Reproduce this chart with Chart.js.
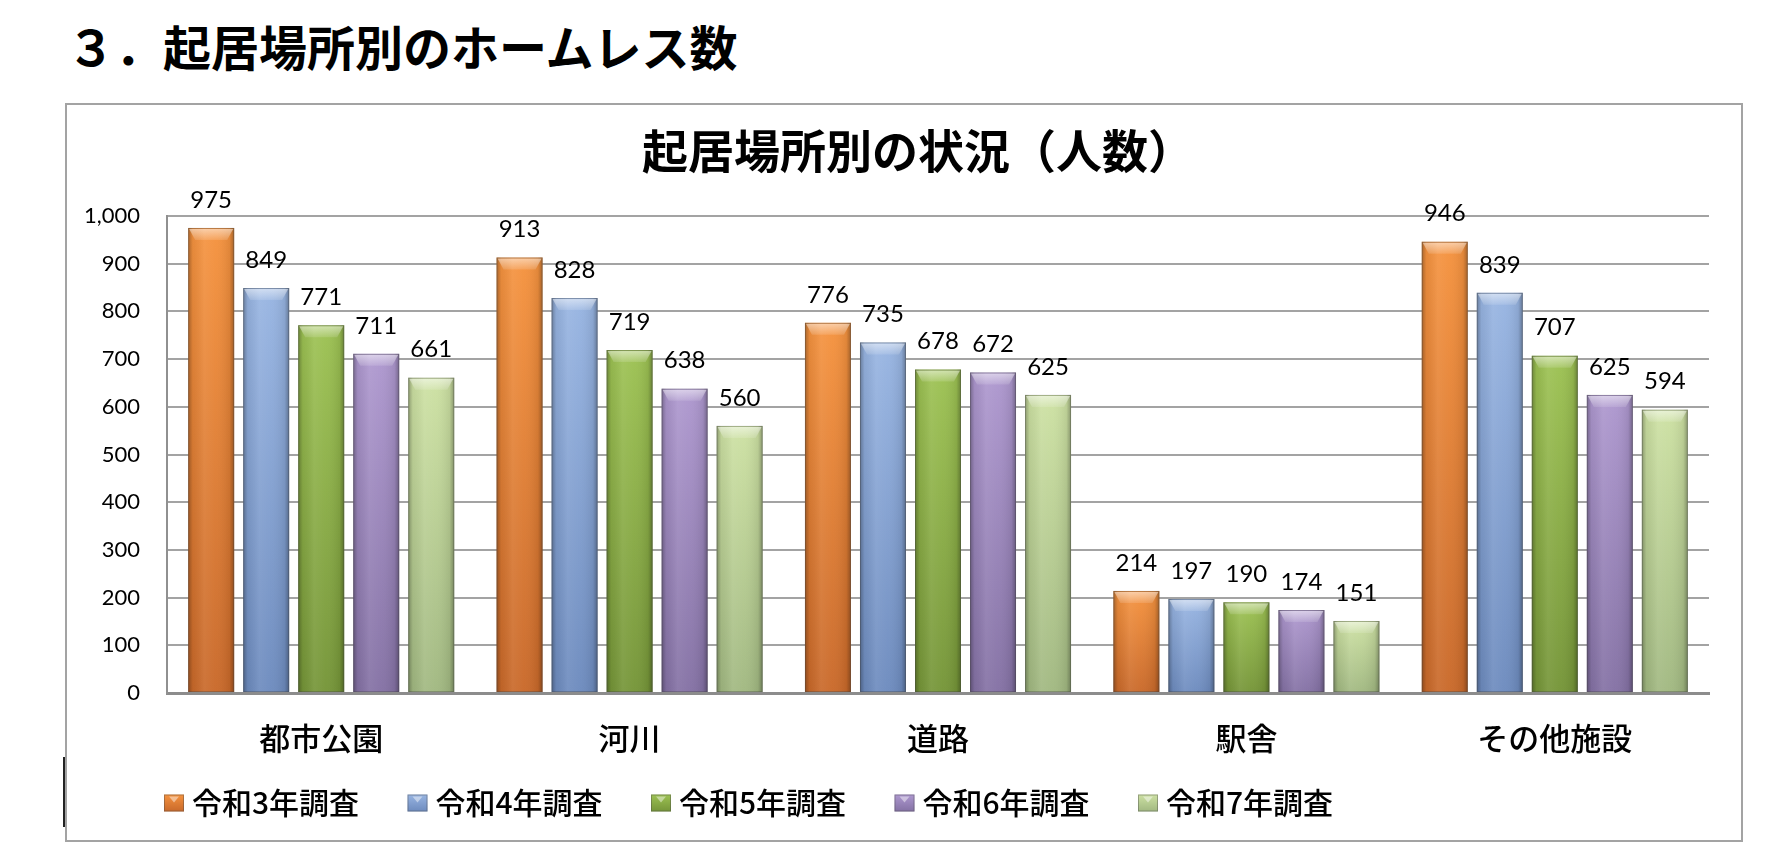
<!DOCTYPE html>
<html><head><meta charset="utf-8">
<script src="https://cdn.jsdelivr.net/npm/chart.js@4.4.1/dist/chart.umd.min.js"></script>
<style>
html,body{margin:0;padding:0;background:#fff;}
body{width:1770px;height:866px;position:relative;overflow:hidden;font-family:"Noto Sans CJK JP",sans-serif;}
#pageTitle{position:absolute;left:67px;top:19px;font-size:48px;font-weight:bold;line-height:52px;color:#000;white-space:nowrap;}
#frame{position:absolute;left:65px;top:103px;width:1678px;height:739px;border:2px solid #a3a3a3;box-sizing:border-box;}
#mark{position:absolute;left:63px;top:757px;width:2px;height:70px;background:#222;}
#wrap{position:absolute;left:66px;top:105px;width:1675px;height:735px;}
</style></head>
<body>
<div id="pageTitle">３．起居場所別のホームレス数</div>
<div id="frame"></div>
<div id="mark"></div>
<div id="wrap"><canvas id="c"></canvas></div>
<script>
// ---- data ----
const chartTitle = '起居場所別の状況（人数）';
const categories = ['都市公園', '河川', '道路', '駅舎', 'その他施設'];
const seriesNames = ['令和3年調査', '令和4年調査', '令和5年調査', '令和6年調査', '令和7年調査'];
const r3 = [975, 913, 776, 214, 946];
const r4 = [849, 828, 735, 197, 839];
const r5 = [771, 719, 678, 190, 707];
const r6 = [711, 638, 672, 174, 625];
const r7 = [661, 560, 625, 151, 594];
const seriesValues = [r3, r4, r5, r6, r7];
const yMin = 0, yMax = 1000, yStep = 100;

// ---- styles ----
const topColors = ['#F5933F', '#98B5E2', '#9DC253', '#AE98CF', '#CDE1A3'];
const bottomColors = ['#C9692A', '#6D8BBE', '#759538', '#8471A4', '#A1B881'];
const baseColors = ['#E8853A', '#86A3D3', '#8FB24A', '#9E8BBE', '#BDD592'];
const latin = 'Lato, "Noto Sans", sans-serif';
const cjk = '"Noto Sans CJK JP", sans-serif';

function barFill(i) {
  return function (c) {
    if (c.type !== 'data') return baseColors[i];
    const chart = c.chart, ys = chart.scales.y;
    if (!ys || !chart.chartArea) return baseColors[i];
    const top = ys.getPixelForValue(c.raw), bot = ys.getPixelForValue(0);
    if (!isFinite(top) || !isFinite(bot) || bot - top < 1) return baseColors[i];
    const g = chart.ctx.createLinearGradient(0, top, 0, bot);
    g.addColorStop(0, topColors[i]);
    g.addColorStop(1, bottomColors[i]);
    return g;
  };
}

const titlePlugin = {
  id: 'innerTitle',
  afterDraw(chart) {
    const ctx = chart.ctx;
    ctx.save();
    ctx.font = 'bold 46px ' + cjk;
    ctx.fillStyle = '#000';
    ctx.textAlign = 'center';
    ctx.textBaseline = 'middle';
    ctx.fillText(chartTitle, 852, 46);
    ctx.restore();
  }
};

const bevelPlugin = {
  id: 'bevel',
  afterDatasetsDraw(chart) {
    const ctx = chart.ctx;
    chart.data.datasets.forEach((ds, i) => {
      const meta = chart.getDatasetMeta(i);
      meta.data.forEach(el => {
        const p = el.getProps(['x', 'y', 'base', 'width'], true);
        const l = p.x - p.width / 2, r = p.x + p.width / 2, h = p.base - p.y, y = p.y;
        if (h <= 0) return;
        ctx.save();
        const g = ctx.createLinearGradient(l, 0, r, 0);
        g.addColorStop(0, 'rgba(0,0,0,0.30)');
        g.addColorStop(0.1, 'rgba(0,0,0,0.06)');
        g.addColorStop(0.35, 'rgba(255,255,255,0.08)');
        g.addColorStop(0.6, 'rgba(255,255,255,0.03)');
        g.addColorStop(0.9, 'rgba(0,0,0,0.08)');
        g.addColorStop(1, 'rgba(0,0,0,0.32)');
        ctx.fillStyle = g;
        ctx.fillRect(l, y, p.width, h);
        const bh = Math.min(12, h / 2);
        ctx.beginPath();
        ctx.moveTo(l + 1, y + 1); ctx.lineTo(r - 1, y + 1);
        ctx.lineTo(r - 7, y + bh); ctx.lineTo(l + 7, y + bh); ctx.closePath();
        const gb = ctx.createLinearGradient(0, y, 0, y + bh);
        gb.addColorStop(0, 'rgba(255,255,255,0.55)');
        gb.addColorStop(1, 'rgba(255,255,255,0.12)');
        ctx.fillStyle = gb;
        ctx.fill();
        ctx.strokeStyle = 'rgba(70,70,70,0.35)';
        ctx.lineWidth = 1;
        ctx.strokeRect(l + 0.5, y + 0.5, p.width - 1, h - 1);
        ctx.restore();
      });
    });
  }
};

const valueLabelPlugin = {
  id: 'valueLabels',
  afterDatasetsDraw(chart) {
    const ctx = chart.ctx;
    ctx.save();
    ctx.font = '24px ' + latin;
    ctx.fillStyle = '#000';
    ctx.textAlign = 'center';
    ctx.textBaseline = 'middle';
    chart.data.datasets.forEach((ds, i) => {
      const meta = chart.getDatasetMeta(i);
      meta.data.forEach((el, j) => {
        const p = el.getProps(['x', 'y'], true);
        ctx.fillText(String(ds.data[j]), p.x, p.y - 28);
      });
    });
    ctx.restore();
  }
};

const legendPlugin = {
  id: 'customLegend',
  afterDraw(chart) {
    const ctx = chart.ctx;
    const cy = 698;
    ctx.save();
    ctx.font = '500 30px ' + cjk;
    ctx.textBaseline = 'middle';
    ctx.textAlign = 'left';
    chart.data.datasets.forEach((ds, i) => {
      const bx = 98 + i * 243.5, bw = 20, bhgt = 17, by = cy - bhgt / 2;
      const g = ctx.createLinearGradient(0, by, 0, by + bhgt);
      g.addColorStop(0, topColors[i]);
      g.addColorStop(1, bottomColors[i]);
      ctx.fillStyle = g;
      ctx.fillRect(bx, by, bw, bhgt);
      ctx.fillStyle = 'rgba(255,255,255,0.45)';
      ctx.beginPath();
      ctx.moveTo(bx + 5, by + 2); ctx.lineTo(bx + bw - 5, by + 2); ctx.lineTo(bx + bw / 2, by + 8); ctx.closePath();
      ctx.fill();
      ctx.strokeStyle = 'rgba(70,70,70,0.4)';
      ctx.lineWidth = 1;
      ctx.strokeRect(bx + 0.5, by + 0.5, bw - 1, bhgt - 1);
      ctx.fillStyle = '#000';
      ctx.fillText(ds.label, bx + 28, cy);
    });
    ctx.restore();
  }
};

new Chart(document.getElementById('c'), {
  type: 'bar',
  data: {
    labels: categories,
    datasets: seriesNames.map((name, i) => ({
      label: name,
      data: seriesValues[i],
      backgroundColor: barFill(i),
      borderWidth: 0,
      categoryPercentage: 0.892,
      barPercentage: 0.836
    }))
  },
  options: {
    responsive: true,
    maintainAspectRatio: false,
    animation: false,
    layout: { padding: { left: 0, right: 32, top: 111, bottom: 0 } },
    plugins: {
      legend: { display: false },
      tooltip: { enabled: false },
      title: { display: false }
    },
    scales: {
      x: {
        grid: { display: false, drawTicks: false },
        border: { display: true, color: '#8c8c8c', width: 3 },
        ticks: { color: '#000', padding: 27, font: { family: cjk, size: 31, weight: '500' } },
        afterFit(s) { s.height = 147; }
      },
      y: {
        min: yMin, max: yMax,
        grid: { color: '#a3a3a3', lineWidth: 2, drawTicks: false },
        border: { display: true, color: '#909090', width: 2 },
        ticks: {
          stepSize: yStep, color: '#000', padding: 27,
          font: { family: latin, size: 22 },
          callback: v => v.toLocaleString('en-US')
        },
        afterFit(s) { s.width = 101; }
      }
    }
  },
  plugins: [bevelPlugin, valueLabelPlugin, legendPlugin, titlePlugin]
});
</script>
</body></html>
